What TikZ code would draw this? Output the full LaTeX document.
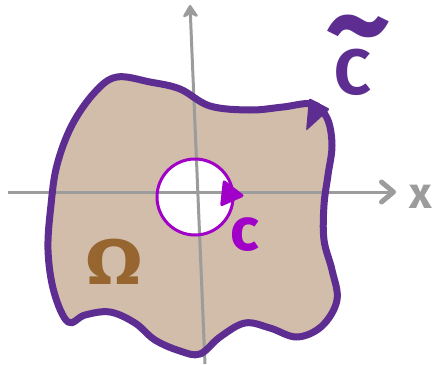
\documentclass[tikz,border=0pt]{standalone}
\usepackage{fontspec}
\setmainfont{Fira Sans}
\usetikzlibrary{arrows.meta}
\usetikzlibrary{positioning}

\definecolor{regiontan}{HTML}{D1BDA9}
\definecolor{edgepurple}{HTML}{5E2D91}
\definecolor{holepurple}{HTML}{A000C8}
\definecolor{omegabrown}{HTML}{966530}
\definecolor{axisgray}{HTML}{9C9C9C}

\begin{document}
\begin{tikzpicture}[
x=1pt, y=-1pt,
axis/.style={
draw=axisgray,
line width=3pt
},
edge/.style={
draw=edgepurple,
line width=7pt,
line join=round
},
hole/.style={
draw=holepurple,
line width=3pt,
fill=white
},
sketch/.style={
font=\bfseries,
inner sep=0pt
}
]

\useasboundingbox (0,0) rectangle (433,364);

\coordinate (xs) at (8,192);
\coordinate (xe) at (396,192);
\coordinate (ys) at (205,364);
\coordinate (ye) at (190,5);

\fill[regiontan] plot[smooth cycle, tension=0.6] coordinates {
(117,77) (150,82) (180,89) (210,106) (250,110) (283,107) (312,104)
(327,118) (332,145) (328,175) (324,205) (324,240) (332,270) (337,300)
(322,326) (297,337) (270,328) (245,323) (220,337) (200,354) (180,351)
(155,340) (135,323) (110,312) (85,315) (68,322) (54,292) (48,250)
(51,205) (57,165) (72,125) (95,92)};

\node[hole, circle, minimum size=76pt, draw=none] (disk) at (195,197) {};

\draw[axis, -{Straight Barb[length=12pt, width=20pt, line width=5pt, round]}] (xs) -- (xe);
\draw[axis, -{Stealth[length=15pt, width=19pt, round]}] (ys) -- (ye);

\node[hole, circle, minimum size=76pt, fill=none] (c1) at (195,197) {};
\fill[holepurple, rounded corners=3pt] (223,179) -- (245,196) -- (220,207) -- cycle;

\draw[edge] plot[smooth cycle, tension=0.6] coordinates {
(117,77) (150,82) (180,89) (210,106) (250,110) (283,107) (312,104)
(327,118) (332,145) (328,175) (324,205) (324,240) (332,270) (337,300)
(322,326) (297,337) (270,328) (245,323) (220,337) (200,354) (180,351)
(155,340) (135,323) (110,312) (85,315) (68,322) (54,292) (48,250)
(51,205) (57,165) (72,125) (95,92)};
\fill[edgepurple, rounded corners=2pt] (309,98) -- (330,109) -- (306,131) -- cycle;

\node[sketch, text=edgepurple, font=\bfseries\fontsize{64}{64}\selectfont] (bigc) at (353,72) {C};
\node[sketch, text=edgepurple, font=\bfseries\fontsize{100}{100}\selectfont, scale=1.28] (tilde) at (358,34) {\raisebox{-0.21em}[0.1em][0pt]{\textasciitilde}};
\node[sketch, text=holepurple, font=\bfseries\fontsize{60}{60}\selectfont] (smallc) at (245,235) {c};
\node[sketch, text=omegabrown, font=\bfseries\fontsize{64}{64}\selectfont, xscale=1.3] (omega) at (114,262) {Ω};
\node[sketch, text=axisgray, font=\bfseries\fontsize{44}{44}\selectfont] (xlabel) at (421,197) {x};

\end{tikzpicture}
\end{document}
